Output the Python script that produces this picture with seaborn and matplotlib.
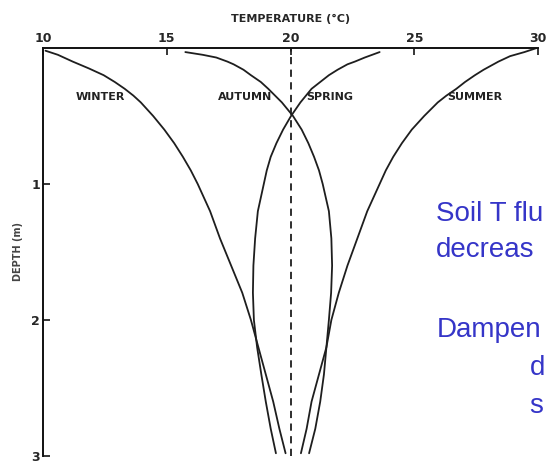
import pandas as pd
import matplotlib
matplotlib.use("Agg")
import matplotlib.pyplot as plt
import seaborn as sns

sns.set_style("ticks")
plt.rcParams['font.family'] = ['Liberation Sans Narrow', 'DejaVu Sans']

# depth (m) and temperature (deg C)
winter_depth = [0.02, 0.05, 0.1, 0.15, 0.2, 0.25, 0.3, 0.35, 0.4, 0.5, 0.6, 0.7, 0.8, 0.9, 1.0, 1.2, 1.4, 1.6, 1.8, 2.0, 2.2, 2.4, 2.6, 2.8, 2.98]
winter_temp = [10.1, 10.6, 11.2, 11.85, 12.45, 12.9, 13.3, 13.65, 13.95, 14.45, 14.9, 15.3, 15.65, 15.97, 16.25, 16.75, 17.15, 17.6, 18.05, 18.4, 18.7, 19.0, 19.3, 19.55, 19.8]

summer_depth = [0.0, 0.03, 0.06, 0.1, 0.16, 0.2, 0.25, 0.3, 0.35, 0.4, 0.5, 0.6, 0.7, 0.8, 0.9, 1.0, 1.2, 1.4, 1.6, 1.8, 2.0, 2.2, 2.4, 2.6, 2.8, 2.98]
summer_temp = [29.95, 29.45, 28.87, 28.4, 27.8, 27.45, 27.05, 26.7, 26.3, 25.95, 25.4, 24.9, 24.5, 24.15, 23.85, 23.6, 23.1, 22.7, 22.3, 21.95, 21.65, 21.45, 21.15, 20.85, 20.65, 20.42]

autumn_depth = [0.03, 0.05, 0.07, 0.1, 0.12, 0.16, 0.2, 0.25, 0.3, 0.4, 0.5, 0.6, 0.7, 0.8, 0.9, 1.0, 1.2, 1.4, 1.6, 1.8, 2.0, 2.2, 2.4, 2.6, 2.8, 2.98]
autumn_temp = [15.75, 16.45, 17.0, 17.45, 17.7, 18.1, 18.4, 18.8, 19.1, 19.65, 20.1, 20.45, 20.72, 20.95, 21.15, 21.3, 21.55, 21.65, 21.68, 21.64, 21.55, 21.45, 21.35, 21.2, 21.0, 20.75]

spring_depth = [0.03, 0.05, 0.07, 0.1, 0.12, 0.16, 0.2, 0.25, 0.3, 0.4, 0.5, 0.6, 0.7, 0.8, 0.9, 1.0, 1.2, 1.4, 1.6, 1.8, 2.0, 2.2, 2.4, 2.6, 2.8, 2.98]
spring_temp = [23.6, 23.3, 23.0, 22.6, 22.3, 21.9, 21.55, 21.2, 20.85, 20.4, 20.02, 19.7, 19.43, 19.2, 19.04, 18.92, 18.68, 18.57, 18.5, 18.48, 18.52, 18.65, 18.82, 19.0, 19.2, 19.41]

seasons = ["WINTER", "AUTUMN", "SPRING", "SUMMER"]
label_temp = [12.3, 18.15, 21.6, 27.45]
label_depth = [0.36, 0.36, 0.36, 0.36]

frames = []
for name, d, t in [("WINTER", winter_depth, winter_temp), ("SUMMER", summer_depth, summer_temp),
                   ("AUTUMN", autumn_depth, autumn_temp), ("SPRING", spring_depth, spring_temp)]:
    frames.append(pd.DataFrame({"season": name, "depth": d, "temp": t}))
df = pd.concat(frames, ignore_index=True)

fig = plt.figure(figsize=(5.46, 4.66), dpi=100)
ax = fig.add_axes([0.0788, 0.0215, 0.9066, 0.8755])

sns.lineplot(data=df, x="temp", y="depth", units="season", estimator=None, orient="y",
             sort=True, color="#1e1e1e", linewidth=1.3, ax=ax)
ax.axvline(20, color="#1e1e1e", linewidth=1.3, linestyle=(0, (4, 3)))

for s, t, d in zip(seasons, label_temp, label_depth):
    ax.text(t, d, s, ha="center", va="center", fontsize=8, fontweight="bold", color="#222222")

ax.set_xlim(10, 30)
ax.set_ylim(3, 0)
ax.xaxis.tick_top()
ax.xaxis.set_label_position("top")
ax.set_xticks([10, 15, 20, 25, 30])
ax.set_yticks([1, 2, 3])
ax.tick_params(axis="both", direction="in", length=5, width=1.3, labelsize=9, pad=2)
for lab in ax.get_xticklabels() + ax.get_yticklabels():
    lab.set_fontweight("bold")
ax.set_xlabel("TEMPERATURE (°C)", fontsize=8, fontweight="bold", labelpad=7)
ax.set_ylabel("DEPTH (m)", fontsize=7, fontweight="bold", labelpad=6, color="#444444")
for side in ["right", "bottom"]:
    ax.spines[side].set_visible(False)
for side in ["top", "left"]:
    ax.spines[side].set_linewidth(1.4)
    ax.spines[side].set_color("#111111")

# blue overlay note, only the part that shows inside the frame
blue = "#3535c8"
note_font = ['Liberation Sans', 'DejaVu Sans']
fig.text(0.799, 0.5258, "Soil T flu", color=blue, fontsize=20, va="baseline", family=note_font)
fig.text(0.799, 0.4485, "decreas", color=blue, fontsize=20, va="baseline", family=note_font)
fig.text(0.799, 0.2768, "Dampen", color=blue, fontsize=20, va="baseline", family=note_font)
fig.text(0.970, 0.1953, "d", color=blue, fontsize=20, va="baseline", family=note_font)
fig.text(0.970, 0.1137, "s", color=blue, fontsize=20, va="baseline", family=note_font)

fig.savefig("out.png", dpi=100)
